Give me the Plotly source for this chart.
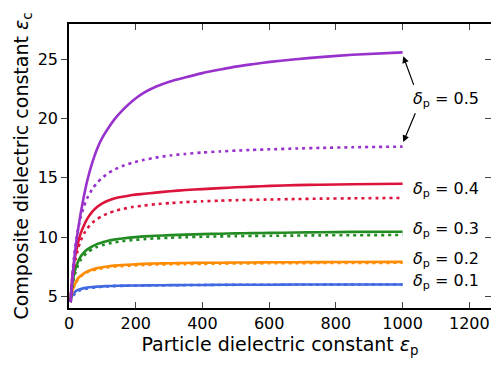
import plotly.graph_objects as go

# Particle dielectric constant (x) sample points
eps_p = [4.5, 7, 10, 15, 20, 27, 35, 45, 55, 70, 85, 100, 120, 135, 160, 190, 225, 260, 303, 350,
         400, 453, 500, 550, 603, 680, 753, 850, 1000]

deltas = ["0.1", "0.2", "0.3", "0.4", "0.5"]
colors = ["#4169E1", "#FF8C00", "#228B22", "#DC143C", "#9932CC"]

# solid curves
solid_01 = [4.5, 4.85, 5.05, 5.28, 5.42, 5.53, 5.61, 5.68, 5.73, 5.78, 5.81, 5.83, 5.86, 5.87, 5.89, 5.9, 5.91, 5.92, 5.93, 5.94,
            5.95, 5.96, 5.96, 5.97, 5.97, 5.98, 5.98, 5.99, 5.99]
solid_02 = [4.5, 5.1, 5.45, 5.85, 6.15, 6.5, 6.72, 6.93, 7.08, 7.25, 7.37, 7.45, 7.53, 7.58, 7.63, 7.68, 7.73, 7.76, 7.78, 7.8,
            7.82, 7.83, 7.84, 7.85, 7.86, 7.87, 7.88, 7.89, 7.9]
solid_03 = [4.5, 5.35, 6.1, 6.85, 7.35, 7.9, 8.35, 8.7, 8.95, 9.2, 9.42, 9.55, 9.7, 9.78, 9.88, 9.97, 10.05, 10.1, 10.16, 10.2,
            10.24, 10.28, 10.31, 10.33, 10.35, 10.38, 10.4, 10.43, 10.45]
solid_04 = [4.5, 5.6, 6.6, 7.8, 8.6, 9.5, 10.3, 11.0, 11.55, 12.15, 12.55, 12.85, 13.1, 13.25, 13.4, 13.55, 13.65, 13.75, 13.87, 13.97,
            14.05, 14.13, 14.2, 14.26, 14.32, 14.38, 14.42, 14.46, 14.5]
solid_05 = [4.5, 5.4, 6.4, 7.9, 9.2, 10.6, 12.0, 13.5, 14.8, 16.3, 17.5, 18.4, 19.3, 19.9, 20.7, 21.5, 22.2, 22.7, 23.15, 23.5,
            23.85, 24.15, 24.4, 24.6, 24.8, 25.02, 25.2, 25.4, 25.6]

# dotted curves
dot_01 = [4.5, 4.71, 4.9, 5.12, 5.26, 5.4, 5.51, 5.59, 5.66, 5.72, 5.76, 5.8, 5.83, 5.85, 5.87, 5.88, 5.9, 5.91, 5.92, 5.93,
          5.95, 5.95, 5.96, 5.96, 5.97, 5.97, 5.97, 5.98, 5.98]
dot_02 = [4.5, 4.93, 5.33, 5.79, 6.12, 6.43, 6.67, 6.88, 7.03, 7.18, 7.29, 7.37, 7.44, 7.49, 7.54, 7.59, 7.63, 7.67, 7.69, 7.71,
          7.73, 7.75, 7.76, 7.77, 7.78, 7.79, 7.8, 7.81, 7.82]
dot_03 = [4.5, 5.16, 5.78, 6.54, 7.07, 7.62, 8.05, 8.42, 8.69, 8.97, 9.17, 9.31, 9.46, 9.54, 9.65, 9.74, 9.82, 9.88, 9.94, 9.98,
          10.02, 10.05, 10.07, 10.09, 10.1, 10.12, 10.14, 10.15, 10.17]
dot_04 = [4.5, 5.4, 6.26, 7.36, 8.17, 9.0, 9.68, 10.29, 10.73, 11.2, 11.53, 11.78, 12.03, 12.18, 12.36, 12.53, 12.66, 12.77, 12.87, 12.95,
          13.02, 13.07, 13.11, 13.14, 13.17, 13.21, 13.24, 13.27, 13.3]
dot_05 = [4.5, 5.64, 6.78, 8.28, 9.42, 10.64, 11.66, 12.6, 13.3, 14.06, 14.6, 15.02, 15.43, 15.68, 16.0, 16.28, 16.52, 16.71, 16.89, 17.02,
          17.14, 17.23, 17.3, 17.36, 17.41, 17.48, 17.53, 17.58, 17.64]

solids = [solid_01, solid_02, solid_03, solid_04, solid_05]
dots = [dot_01, dot_02, dot_03, dot_04, dot_05]

# label positions (y in data units)
label_y = [6.27, 8.13, 10.6, 14.0, 21.6]

x_ticks = [0, 200, 400, 600, 800, 1000, 1200]
y_ticks = [5, 10, 15, 20, 25]

FONT = "DejaVu Sans"

fig = go.Figure()
for s, d, c in zip(solids, dots, colors):
    fig.add_trace(go.Scatter(x=eps_p, y=s, mode="lines", line=dict(color=c, width=2.6, shape="spline", smoothing=0.5),
                             showlegend=False, hoverinfo="skip"))
    fig.add_trace(go.Scatter(x=eps_p, y=d, mode="lines", line=dict(color=c, width=2.6, dash="3px,4px", shape="spline", smoothing=0.5),
                             showlegend=False, hoverinfo="skip"))

for dl, ly in zip(deltas, label_y):
    fig.add_annotation(x=1025, y=ly, xref="x", yref="y", text="<i>δ</i><sub>p</sub> = " + dl,
                       showarrow=False, xanchor="left", yanchor="middle",
                       font=dict(family=FONT, size=16, color="black"))

# arrows for delta = 0.5
fig.add_annotation(x=1002, y=25.27, ax=1035, ay=22.73, xref="x", yref="y", axref="x", ayref="y",
                   text="", showarrow=True, arrowhead=2, arrowsize=1.1, arrowwidth=1.2, arrowcolor="black")
fig.add_annotation(x=1002, y=18.03, ax=1040, ay=20.58, xref="x", yref="y", axref="x", ayref="y",
                   text="", showarrow=True, arrowhead=2, arrowsize=1.1, arrowwidth=1.2, arrowcolor="black")

fig.update_layout(
    width=491, height=365,
    margin=dict(l=69, r=0, t=24, b=57),
    paper_bgcolor="white", plot_bgcolor="white",
    font=dict(family=FONT, size=16, color="black"),
    xaxis=dict(range=[0, 1265], tickvals=x_ticks, ticks="inside", ticklen=6, tickwidth=1.2,
               showline=True, linecolor="black", linewidth=1.5, mirror="ticks", showgrid=False, zeroline=False,
               tickfont=dict(family=FONT, size=16, color="black"),
               title=dict(text="Particle dielectric constant <i>ε</i><sub>p</sub>", font=dict(family=FONT, size=19), standoff=6)),
    yaxis=dict(range=[4, 28], tickvals=y_ticks, ticks="outside", ticklen=6, tickwidth=1.2,
               showline=True, linecolor="black", linewidth=1.5, showgrid=False, zeroline=False,
               tickfont=dict(family=FONT, size=16, color="black"),
               title=dict(text="Composite dielectric constant <i>ε</i><sub>c</sub>", font=dict(family=FONT, size=19), standoff=4)),
    yaxis2=dict(range=[4, 28], tickvals=y_ticks, ticks="inside", ticklen=6, tickwidth=1.2, overlaying="y", side="right",
                showticklabels=False, showline=False, showgrid=False, zeroline=False),
)
fig.add_trace(go.Scatter(x=[None], y=[None], yaxis="y2", showlegend=False, hoverinfo="skip"))

fig.write_html("out.html")
